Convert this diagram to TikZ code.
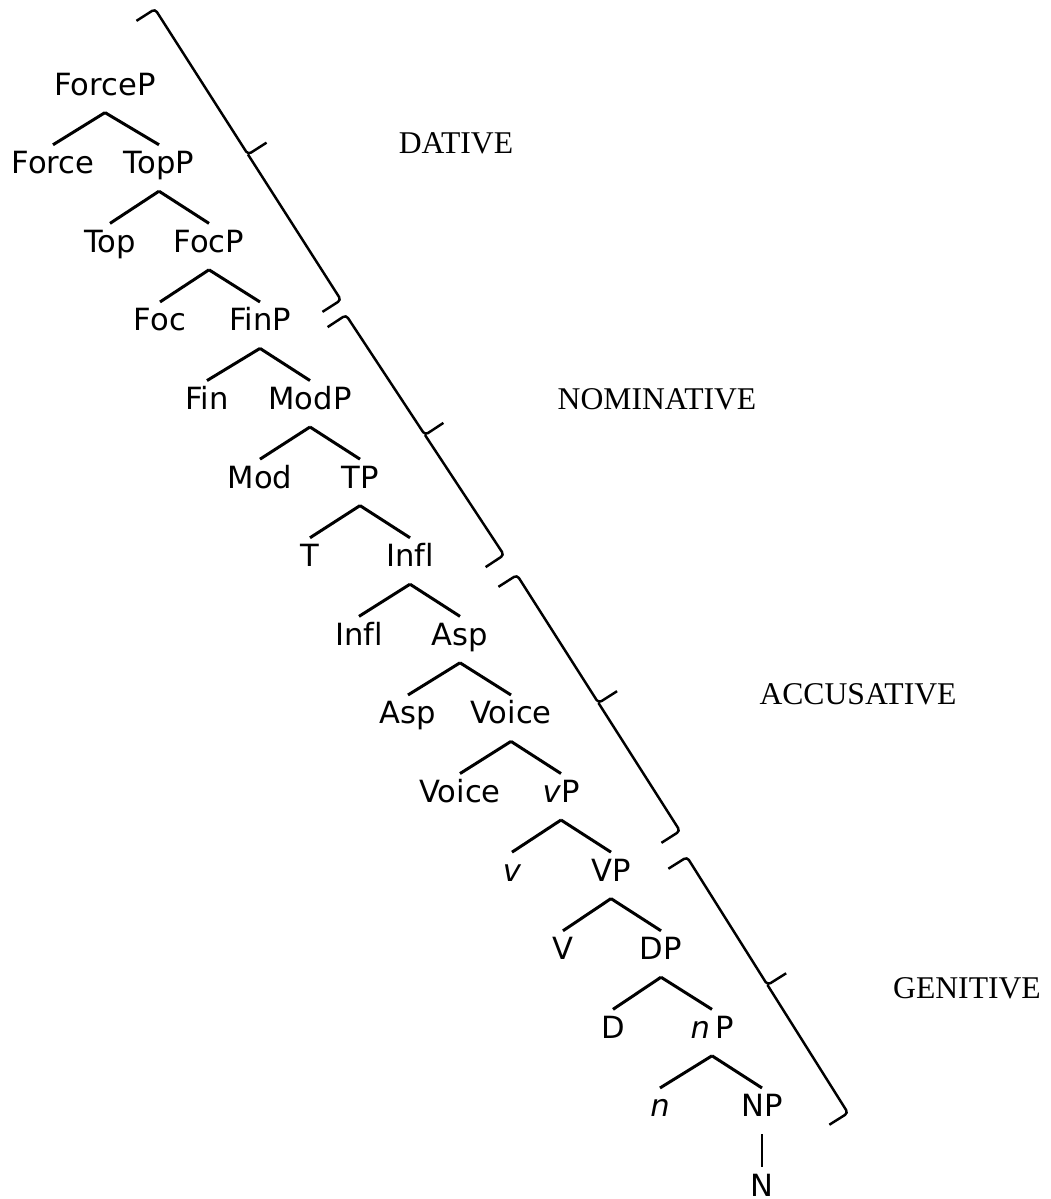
\documentclass[tikz,border=0pt]{standalone}
\usepackage{fontspec}
\setmainfont{Liberation Serif}
\newfontfamily\catfont[Ligatures=CommonOff]{DejaVu Sans}
\usetikzlibrary{calc}

\tikzset{
  cat/.style={font=\catfont\fontsize{8.7}{11}\selectfont, anchor=base,
    inner xsep=0pt, inner ysep=1.7pt, text height=6.3pt, text depth=3.1pt},
  branch/.style={line width=0.85pt},
  casebrace/.style={line width=0.7pt, rounded corners=1pt},
  caselabel/.style={font=\fontsize{9}{11}\selectfont, anchor=base}
}

\begin{document}
\begin{tikzpicture}[x=0.01cm,y=-0.01cm]
\useasboundingbox (0,0) rectangle (1050,1199);

% Spine of the tree
\foreach \k/\x/\lab in {0/105/ForceP, 1/159/TopP, 2/209/FocP, 3/260/FinP,
    4/310/ModP, 5/360/TP, 6/410/Infl, 7/460/Asp, 8/511/Voice,
    9/561/{\textit{v}P}, 10/611/VP, 11/661/DP, 12/712/{\textit{n}\,P}, 13/762/NP}
  \node[cat] (s\k) at (\x,{95+78.6*\k}) {\lab};

% Heads
\foreach \k/\x/\lab in {1/53/Force, 2/110/Top, 3/160/Foc, 4/207/Fin,
    5/260/Mod, 6/310/T, 7/359/Infl, 8/408/Asp, 9/460/Voice,
    10/512/{\textit{v}}, 11/563/V, 12/613/D, 13/660/{\textit{n}}}
  \node[cat] (h\k) at (\x,{95+78.6*\k}) {\lab};

\node[cat] (n) at (762,1196) {N};

% Branches
\foreach \k in {1,...,13} {
  \pgfmathtruncatemacro\m{\k-1}
  \draw[branch] (s\m.south) -- (h\k.north);
  \draw[branch] (s\m.south) -- (s\k.north);
}
\draw[branch] (s13.south) -- (n.north);

% Braces
\coordinate (dat1) at (155,9);   \coordinate (dat2) at (341,300);
\coordinate (nom1) at (346,315); \coordinate (nom2) at (504,555);
\coordinate (acc1) at (517,575); \coordinate (acc2) at (680,831);
\coordinate (gen1) at (687,857); \coordinate (gen2) at (848,1113);

\foreach \br in {dat,nom,acc,gen}
  \draw[casebrace] ($(\br1)!0.22cm!-90:(\br2)$) -- (\br1)
    -- ($(\br1)!0.5!(\br2)$) coordinate (\br-m)
    -- ($(\br-m)!0.22cm!90:(\br2)$)
    (\br-m) -- (\br2) -- ($(\br2)!0.22cm!90:(\br1)$);

% Case labels
\node[caselabel] (dat) at (456,153) {DATIVE};
\node[caselabel] (nom) at (657,409) {NOMINATIVE};
\node[caselabel] (acc) at (858,704) {ACCUSATIVE};
\node[caselabel] (gen) at (967,998) {GENITIVE};

\end{tikzpicture}
\end{document}
